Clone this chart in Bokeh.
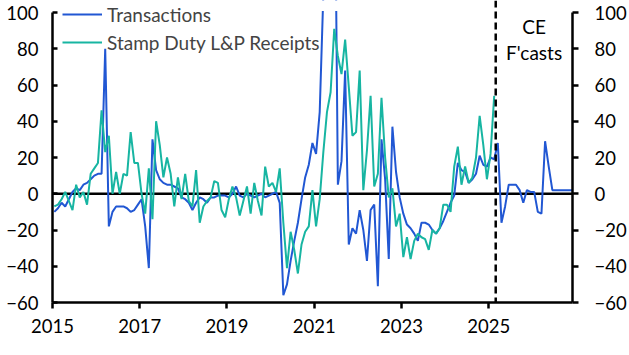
import numpy as np
from bokeh.plotting import figure
from bokeh.models import Span, Label, Range1d, LinearAxis, FixedTicker, Legend, LegendItem, BoxAnnotation
from bokeh.embed import file_html
from bokeh.resources import INLINE

# ---- data (monthly, % y/y) ----
start_year = 2015
transactions = [
    -10, -8, -5, -7, -3, 1, 3, 2, 5, 6, 8, 10,            # 2015
    11, 11, 80, -18, -10, -7, -7, -7, -8, -10, -9, -6,    # 2016
    -3, -18, -41, 30, 13, 8, 6, 5, 5, 4, 3, -2,           # 2017
    -3, -5, -9, -5, -2, -3, -5, -2, -2, -1, -1, -1,       # 2018
    -2, 0, 4, -1, -2, 0, -1, -2, -1, 0, -2, -1,           # 2019
    0, 1, -5, -56, -50, -37, -26, -16, -3, 9, 16, 28,     # 2020
    22, 45, 110, 200, 150, 220, 5, 18, 68, -28, -19, -22, # 2021
    -9, -20, -37, -9, -6, -51, 30, 8, -36, 37, 12, -2,    # 2022
    -11, -17, -19, -22, -26, -16, -16, -17, -20, -22, -19, -15,  # 2023
    -10, -5, -1, 17, 13, 12, 6, 8, 11, 21, 16, 15,        # 2024
    20, 19, 28, -16, -7, 5, 5, 5, 2, -5, 2, 1,            # 2025
    1, -10, -11, 29, 15, 2, 2, 2, 2, 2, 2, 2,             # 2026
]
stamp_duty = [
    -7, -6, -3, 1, -4, -9, 5, -2, 1, -6, 11, 14,          # 2015
    17, 46, 23, 32, 0, 12, 0, 11, 10, 34, 17, 17,         # 2016
    0, -11, 14, -14, 40, 27, 9, 20, 11, -7, 9, -3,        # 2017
    11, -4, -7, 13, -16, -7, -4, -2, 7, 6, -9, -13,       # 2018
    -3, 4, -2, -12, -4, 4, -11, 6, -4, -12, 15, 4,        # 2019
    6, 1, 14, -16, -41, -21, -31, -44, -28, -21, -18, 2,  # 2020
    -18, -3, 23, 45, 56, 91, 76, 66, 85, 59, 32, 34,      # 2021
    68, 2, 24, 54, 4, 11, 53, 20, -2, 3, -18, -11,        # 2022
    -35, -24, -36, -26, -22, -24, -25, -31, -20, -22, -19, -6,  # 2023
    -6, -10, 15, 26, 5, 15, 6, 9, 20, 43, 27, 8,          # 2024
    22, 54,                                               # 2025
]
series_names = ["Transactions", "Stamp Duty L&P Receipts"]
series_colors = ["#2157D3", "#17B5A2"]
y_ticks = [-60, -40, -20, 0, 20, 40, 60, 80, 100]
y_min, y_max = -60, 100
x_ticks = [2015, 2017, 2019, 2021, 2023, 2025]
forecast_start = 2025.16
x_end = 2026.92
forecast_label = ["CE", "F'casts"]

x_t = start_year + (np.arange(len(transactions)) + 0.5) / 12
x_s = start_year + (np.arange(len(stamp_duty)) + 0.5) / 12

FONT = "Lato"
FS = "18.5px"

# frame: 12px of headroom above the 100 line (axes bounded to -60..100)
px_per_unit = 290 / (y_max - y_min)
y_top = y_max + 12 / px_per_unit

p = figure(width=629, height=355, x_range=Range1d(start_year, x_end), y_range=Range1d(y_min, y_top),
           output_backend="svg", toolbar_location=None,
           min_border_left=52, min_border_right=53, min_border_top=0, min_border_bottom=53)
p.outline_line_color = None
p.grid.visible = False
p.background_fill_color = "white"
p.border_fill_color = "white"

zero = Span(location=0, dimension="width", line_color="black", line_width=2.5, level="underlay")
p.add_layout(zero)

r1 = p.line(x_t, transactions, line_color=series_colors[0], line_width=2)
r2 = p.line(x_s, stamp_duty, line_color=series_colors[1], line_width=2)

# mask the series above the 100 line (chart area ends there)
mask = BoxAnnotation(bottom=y_max + 1.5 / px_per_unit, fill_color="white", fill_alpha=1.0, line_color=None)
p.add_layout(mask)

fc = Span(location=forecast_start, dimension="height", line_color="black", line_width=2.5, line_dash="7 4")
p.add_layout(fc)

# axes
def style_axis(ax):
    ax.axis_line_width = 2.5
    ax.axis_line_color = "black"
    ax.major_tick_line_width = 2.5
    ax.major_tick_line_color = "black"
    ax.minor_tick_line_color = None
    ax.major_label_text_font = FONT
    ax.major_label_text_font_size = FS
    ax.major_label_text_color = "black"

xa = p.xaxis[0]
xa.ticker = FixedTicker(ticks=x_ticks)
style_axis(xa)
xa.major_tick_in = 0
xa.major_tick_out = 6
xa.major_label_standoff = 10

ya = p.yaxis[0]
ya.ticker = FixedTicker(ticks=y_ticks)
ya.bounds = (y_min, y_max)
style_axis(ya)
ya.major_tick_in = 5
ya.major_tick_out = 0
ya.major_label_standoff = 14

yr = LinearAxis(ticker=FixedTicker(ticks=y_ticks), bounds=(y_min, y_max))
style_axis(yr)
yr.major_tick_in = 0
yr.major_tick_out = 6
yr.major_label_standoff = 16
p.add_layout(yr, "right")

legend = Legend(items=[LegendItem(label=series_names[0], renderers=[r1]),
                       LegendItem(label=series_names[1], renderers=[r2])],
                location=(10, 248), padding=0, margin=0, spacing=4,
                glyph_width=40, glyph_height=24, label_height=24, label_standoff=5,
                label_text_font=FONT, label_text_font_size="19px",
                background_fill_alpha=0, border_line_color=None)
p.add_layout(legend, "center")

xm = (forecast_start + x_end) / 2
for txt, yv in zip(forecast_label, [92.3, 78.1]):
    p.add_layout(Label(x=xm, y=yv, text=txt, text_align="center", text_baseline="middle",
                       text_font=FONT, text_font_size="19px", text_color="black"))

open("out.html", "w").write(file_html(p, INLINE))
